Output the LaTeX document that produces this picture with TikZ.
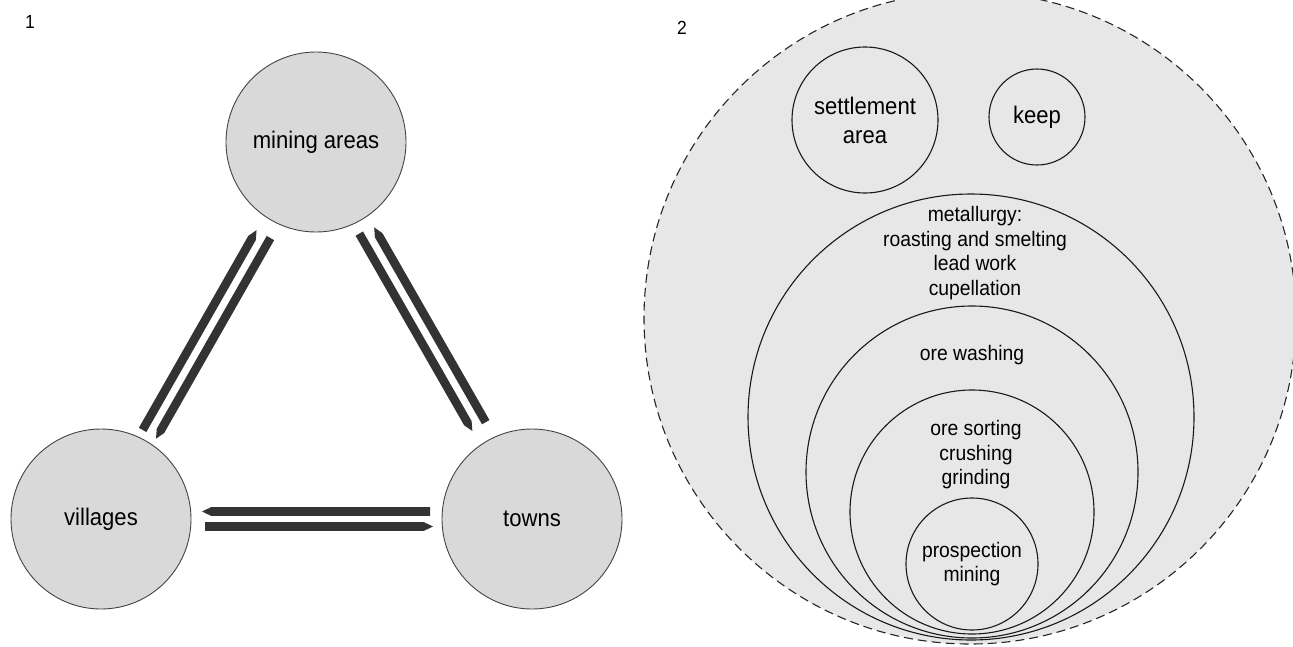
\documentclass[tikz,border=0pt]{standalone}
\usepackage{fontspec}
\setmainfont[FakeStretch=0.92]{Liberation Sans}
\usetikzlibrary{calc}
\definecolor{barc}{HTML}{333333}
\definecolor{hubfill}{HTML}{D9D9D9}
\definecolor{panel}{HTML}{E7E7E7}
\definecolor{hubline}{HTML}{444444}
% #1 tail node, #2 tip node, #3 perpendicular offset, #4 distance of tail from #1, #5 distance of tip from #2
\newcommand\arrowbar[5]{%
  \fill[barc] let \p1=(#1), \p2=(#2), \n1={atan2(\y2-\y1,\x2-\x1)}, \n2={veclen(\x2-\x1,\y2-\y1)} in
    ($(#1)+({\n1}:{#4pt})+({\n1+90}:{#3pt+4.3pt})$) --
    ($(#1)+({\n1}:{\n2-#5pt-9pt})+({\n1+90}:{#3pt+4.3pt})$) --
    ($(#1)+({\n1}:{\n2-#5pt})+({\n1+90}:{#3pt})$) --
    ($(#1)+({\n1}:{\n2-#5pt-9pt})+({\n1+90}:{#3pt-4.3pt})$) --
    ($(#1)+({\n1}:{#4pt})+({\n1+90}:{#3pt-4.3pt})$) -- cycle;}
\begin{document}
\begin{tikzpicture}[x=1pt,y=-1pt,
  hub/.style={circle,draw=hubline,line width=0.9pt,fill=hubfill,minimum size=180pt,inner sep=0pt,font=\fontsize{24}{29}\selectfont},
  ring/.style={circle,draw=black!90,line width=1.1pt,inner sep=0pt},
  big/.style={font=\fontsize{24}{29}\selectfont,align=center},
  lbl/.style={font=\fontsize{21}{24.5}\selectfont,align=center,inner sep=0pt},
  num/.style={font=\fontsize{19}{22}\selectfont,inner sep=0pt},
  outer/.style={circle,draw=black!85,line width=1.1pt,dash pattern=on 9pt off 5pt,fill=panel,inner sep=0pt}]
\useasboundingbox (0,0) rectangle (1293,646);
% panel 1
\node[num] (n1) at (30,22) {1};
\node[hub] (min) at (316,142) {mining areas};
\node[hub] (vil) at (101,519) {villages};
\node[hub] (tow) at (532,519) {towns};
\arrowbar{vil}{min}{8}{98}{106}
\arrowbar{min}{vil}{8}{106}{97}
\arrowbar{min}{tow}{-8}{101}{106}
\arrowbar{tow}{min}{-8}{107}{103}
\arrowbar{tow}{vil}{-7.5}{102}{101}
\arrowbar{vil}{tow}{-7.5}{104}{99}
% panel 2
\node[num] (n2) at (682,28) {2};
\begin{scope}
  \clip (0,0) rectangle (1293,646);
  \node[outer,minimum size=652pt] (site) at (970,318) {};
\end{scope}
\node[ring,big,minimum size=146pt] (set) at (865,120) {settlement\\area};
\node[ring,big,minimum size=96pt] (keep) at (1037,117) {keep};
\node[ring,minimum size=446pt] (met) at (971,417) {};
\node[lbl] (metl) at (975,253) {metallurgy:\\roasting and smelting\\lead work\\cupellation};
\node[ring,minimum size=332pt] (wash) at (972,472) {};
\node[lbl] (washl) at (972,355) {ore washing};
\node[ring,minimum size=244pt] (sort) at (972,512) {};
\node[lbl] (sortl) at (976,455) {ore sorting\\crushing\\grinding};
\node[ring,lbl,minimum size=132pt] (pros) at (972,564) {prospection\\mining};
\end{tikzpicture}
\end{document}
